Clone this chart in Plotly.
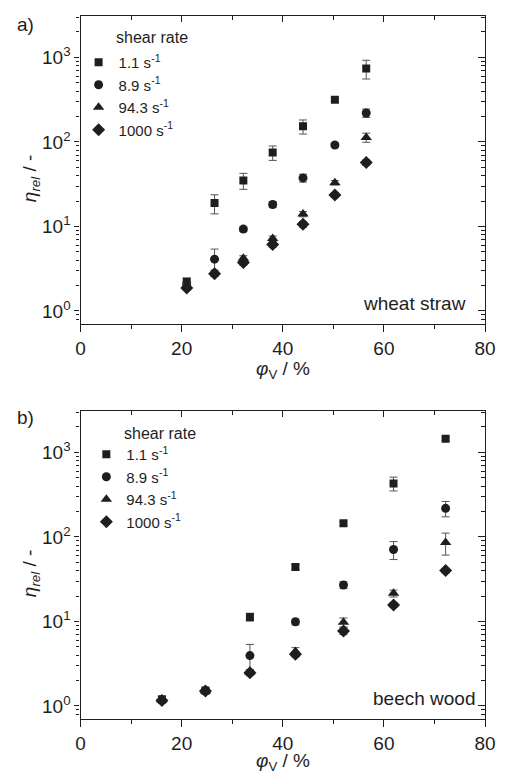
import plotly.graph_objects as go

# ---------------- data ----------------
shear_labels = ["1.1 s<sup>-1</sup>", "8.9 s<sup>-1</sup>", "94.3 s<sup>-1</sup>", "1000 s<sup>-1</sup>"]

wheat_phi = [21, 26.5, 32.2, 38, 44, 50.3, 56.5]
wheat_1_1 = [2.23, 18.9, 35, 75, 153, 315, 740]
wheat_1_1_err = [0.2, 4.8, 7.5, 14.5, 29, 15, 185]
wheat_8_9 = [2.1, 4.1, 9.3, 18.2, 37.5, 92, 220]
wheat_8_9_err = [0.15, 1.3, 0.6, 1.5, 4, 5, 25]
wheat_94_3 = [2.0, 2.85, 4.2, 7.2, 14, 33, 113]
wheat_94_3_err = [0.1, 0.2, 0.3, 0.5, 1.0, 2, 14]
wheat_1000 = [1.87, 2.75, 3.75, 6.1, 10.6, 23.5, 57]
wheat_1000_err = [0.1, 0.2, 0.25, 0.4, 0.8, 1.5, 4]

beech_phi = [16.1, 24.7, 33.5, 42.5, 52.0, 61.9, 72.2]
beech_1_1 = [1.2, 1.52, 11.3, 44, 145, 430, 1450]
beech_1_1_err = [0.08, 0.1, 1.2, 3, 8, 80, 60]
beech_8_9 = [1.17, 1.5, 3.95, 9.9, 27, 71, 218]
beech_8_9_err = [0.08, 0.1, 1.4, 0.8, 2.5, 17, 45]
beech_94_3 = [1.18, 1.5, 2.5, 4.4, 9.8, 21.5, 86]
beech_94_3_err = [0.08, 0.1, 0.2, 0.5, 1.2, 2, 25]
beech_1000 = [1.16, 1.5, 2.48, 4.1, 7.7, 15.7, 40]
beech_1000_err = [0.08, 0.1, 0.2, 0.3, 0.7, 1, 2.5]

y_tickvals = [1, 10, 100, 1000]
y_ticktext = ["10<sup>0</sup>", "10<sup>1</sup>", "10<sup>2</sup>", "10<sup>3</sup>"]
x_tickvals = [0, 20, 40, 60, 80]

# ---------------- styling ----------------
W, H = 507, 773
FONT = "Liberation Sans, Arial, sans-serif"
INK = "#1e1e1e"
symbols = ["square", "circle", "triangle-up", "diamond"]
sizes = [8, 9, 10, 10]


def px(x):
    return x / W


def py(y):
    return 1 - y / H


fig = go.Figure()

panels = [
    (wheat_phi, [(wheat_1_1, wheat_1_1_err), (wheat_8_9, wheat_8_9_err),
                 (wheat_94_3, wheat_94_3_err), (wheat_1000, wheat_1000_err)], "x", "y", "legend"),
    (beech_phi, [(beech_1_1, beech_1_1_err), (beech_8_9, beech_8_9_err),
                 (beech_94_3, beech_94_3_err), (beech_1000, beech_1000_err)], "x2", "y2", "legend2"),
]

for phi, series, xa, ya, lg in panels:
    for i, (vals, errs) in enumerate(series):
        fig.add_trace(go.Scatter(
            x=phi, y=vals, mode="markers", name=shear_labels[i],
            xaxis=xa, yaxis=ya, legend=lg,
            marker=dict(symbol=symbols[i], size=sizes[i], color=INK, line=dict(width=0)),
            error_y=dict(type="data", array=errs, visible=True, color="#555555",
                         thickness=1, width=4),
        ))

# dummy traces to activate mirror (inner-tick) axes
fig.add_trace(go.Scatter(x=[None], y=[None], xaxis="x3", yaxis="y3", showlegend=False))
fig.add_trace(go.Scatter(x=[None], y=[None], xaxis="x4", yaxis="y4", showlegend=False))

xdom = [px(78), px(495.7)]
ydom_a = [py(324), py(16)]
ydom_b = [py(719), py(411)]
yrange = [-0.154, 3.49]

tickfont = dict(family=FONT, size=19, color=INK)

xbase = dict(range=[0, 80], tickvals=x_tickvals, ticks="outside", ticklen=7, tickwidth=1.2,
             tickcolor=INK, showline=True, linecolor=INK, linewidth=1.3, mirror=True,
             showgrid=False, zeroline=False, tickfont=tickfont, domain=xdom,
             minor=dict(dtick=10, tick0=0, ticks="outside", ticklen=4, tickwidth=1.2, tickcolor=INK))
ybase = dict(type="log", range=yrange, tickvals=y_tickvals, ticktext=y_ticktext,
             ticks="outside", ticklen=5, tickwidth=1.2, tickcolor=INK, showline=True,
             linecolor=INK, linewidth=1.3, mirror=True, showgrid=False, zeroline=False,
             tickfont=tickfont,
             minor=dict(dtick="D1", ticks="outside", ticklen=3, tickwidth=1, tickcolor=INK))
xmirror = dict(range=[0, 80], tickvals=x_tickvals, ticks="inside", ticklen=6, tickwidth=1.2,
               tickcolor=INK, showticklabels=False, showline=False, showgrid=False,
               zeroline=False, side="top",
               minor=dict(dtick=10, tick0=0, ticks="inside", ticklen=4, tickwidth=1.2, tickcolor=INK))
ymirror = dict(type="log", range=yrange, tickvals=y_tickvals, ticks="inside", ticklen=7,
               tickwidth=1.2, tickcolor=INK, showticklabels=False, showline=False,
               showgrid=False, zeroline=False, side="right",
               minor=dict(dtick="D1", ticks="inside", ticklen=4, tickwidth=1, tickcolor=INK))

fig.update_layout(
    xaxis=dict(xbase, anchor="y"),
    yaxis=dict(ybase, anchor="x", domain=ydom_a),
    xaxis2=dict(xbase, anchor="y2"),
    yaxis2=dict(ybase, anchor="x2", domain=ydom_b),
    xaxis3=dict(xmirror, overlaying="x", anchor="y3"),
    yaxis3=dict(ymirror, overlaying="y", anchor="x3"),
    xaxis4=dict(xmirror, overlaying="x2", anchor="y4"),
    yaxis4=dict(ymirror, overlaying="y2", anchor="x4"),
)

legend_style = dict(font=dict(family=FONT, size=15, color=INK), bgcolor="rgba(0,0,0,0)",
                    borderwidth=0, xanchor="left", yanchor="top", itemclick=False,
                    tracegroupgap=0, itemwidth=30)
fig.update_layout(
    legend=dict(legend_style, x=px(76), y=py(46)),
    legend2=dict(legend_style, x=px(84), y=py(438)),
)

ann_font = dict(family=FONT, size=19, color=INK)
annotations = [
    dict(text="a)", x=px(10), y=py(25), xanchor="left", yanchor="middle", font=ann_font),
    dict(text="b)", x=px(10), y=py(417), xanchor="left", yanchor="middle", font=ann_font),
    dict(text="shear rate", x=px(113), y=py(38), xanchor="left", yanchor="middle",
         font=dict(family=FONT, size=16, color=INK)),
    dict(text="shear rate", x=px(121), y=py(433), xanchor="left", yanchor="middle",
         font=dict(family=FONT, size=16, color=INK)),
    dict(text="wheat straw", x=px(478), y=py(303), xanchor="right", yanchor="middle", font=ann_font),
    dict(text="beech wood", x=px(487), y=py(698), xanchor="right", yanchor="middle", font=ann_font),
    dict(text="<i>φ</i><sub>V</sub> / %", x=px(287), y=py(370), xanchor="center", yanchor="middle", font=ann_font),
    dict(text="<i>φ</i><sub>V</sub> / %", x=px(287), y=py(762), xanchor="center", yanchor="middle", font=ann_font),
    dict(text="<i>η</i><sub><i>rel</i></sub> / -", x=px(27), y=py(178), xanchor="center", yanchor="middle",
         textangle=-90, font=ann_font),
    dict(text="<i>η</i><sub><i>rel</i></sub> / -", x=px(27), y=py(573), xanchor="center", yanchor="middle",
         textangle=-90, font=ann_font),
]
for a in annotations:
    a.update(xref="paper", yref="paper", showarrow=False)

fig.update_layout(
    annotations=annotations,
    width=W, height=H,
    margin=dict(l=0, r=0, t=0, b=0),
    paper_bgcolor="white", plot_bgcolor="white",
    font=dict(family=FONT, color=INK),
)

fig.write_html("out.html", config={"displayModeBar": False},
               post_script="document.body.style.margin='0';document.body.style.overflow='hidden';")
